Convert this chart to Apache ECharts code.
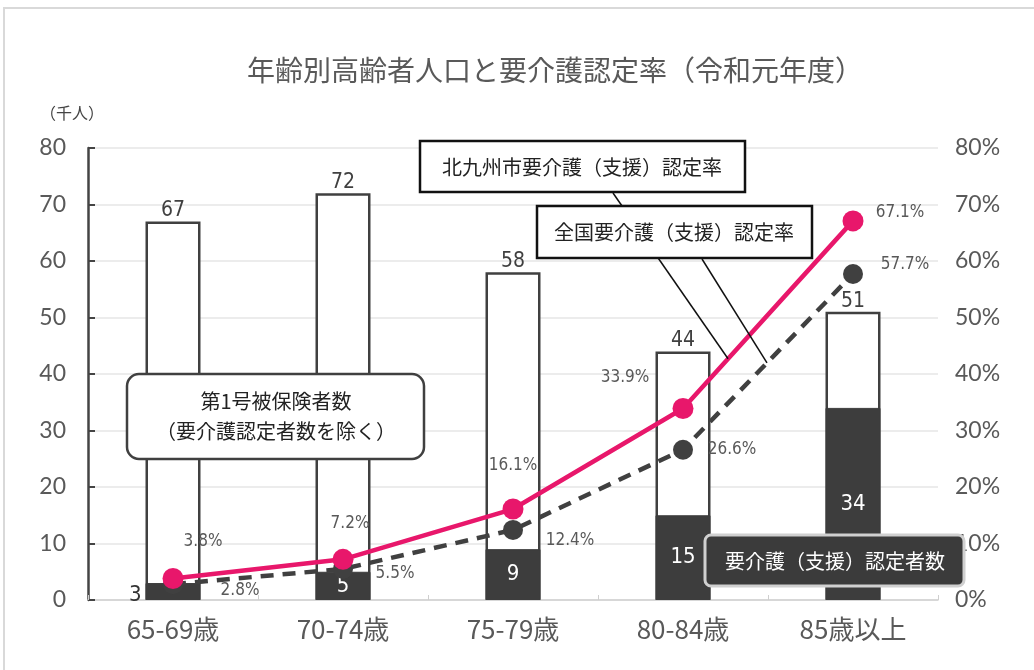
<!DOCTYPE html>
<html>
<head>
<meta charset="utf-8">
<script src="https://cdn.jsdelivr.net/npm/echarts@6/dist/echarts.min.js"></script>
<style>
  html, body { margin: 0; padding: 0; background: #fff; }
  #chart { width: 1034px; height: 670px; }
</style>
</head>
<body>
<div id="chart"></div>
<script>
// 年齢階級
const categories = ['65-69歳', '70-74歳', '75-79歳', '80-84歳', '85歳以上'];
// 第1号被保険者数（要介護認定者数を除く）（千人）
const insuredPop = [67, 72, 58, 44, 51];
// 要介護（支援）認定者数（千人）
const certifiedPop = [3, 5, 9, 15, 34];
// 北九州市 要介護（支援）認定率（%）
const kitakyushuRate = [3.8, 7.2, 16.1, 33.9, 67.1];
// 全国 要介護（支援）認定率（%）
const nationalRate = [2.8, 5.5, 12.4, 26.6, 57.7];
// 軸目盛り
const leftTicks = { min: 0, max: 80, interval: 10 };
const rightTicks = { min: 0, max: 80, interval: 10 };

// ラベルの配置（点からのずれ, px）
const pinkLabelOffsets = [[30, -37], [7, -36], [0, -43], [-58, -31], [47, -8]];
const greyLabelOffsets = [[67, 6], [52, 5], [57, 11], [49, 0], [52, -9]];

const PINK = '#e8176b';
const DARK = '#3d3d3d';
const GREY_TEXT = '#595959';
const NARROW = "'Liberation Sans Narrow','DejaVu Sans Condensed','Noto Sans CJK JP',sans-serif";
const JP = "'Noto Sans CJK JP',sans-serif";

const chart = echarts.init(document.getElementById('chart'), null, { renderer: 'canvas' });

function rateData(values, offsets) {
  return values.map((v, i) => ({
    value: v,
    label: { offset: offsets[i] }
  }));
}

const certifiedData = certifiedPop.map((v, i) => i === 0
  ? { value: v, label: { position: 'left', color: '#333', distance: 4, offset: [0, 4] } }
  : v);

const option = {
  animation: false,
  backgroundColor: '#fff',
  grid: { left: 88, right: 96, top: 148, bottom: 70 },
  xAxis: {
    type: 'category',
    data: categories,
    axisLine: { lineStyle: { color: '#d0d0d0', width: 1.5 } },
    axisTick: { show: true, inside: true, length: 5, lineStyle: { color: '#cfcfcf' } },
    axisLabel: { color: GREY_TEXT, fontSize: 26, fontFamily: JP, margin: 16 }
  },
  yAxis: [
    {
      type: 'value',
      min: leftTicks.min, max: leftTicks.max, interval: leftTicks.interval,
      axisLine: { show: true, lineStyle: { color: '#444', width: 2.5 } },
      axisTick: { show: true, inside: true, length: 7, lineStyle: { color: '#444', width: 2 } },
      axisLabel: { color: GREY_TEXT, fontSize: 23, fontFamily: "Lato, 'Noto Sans', sans-serif", margin: 22 },
      splitLine: { lineStyle: { color: '#e6e6e6', width: 1.5 } }
    },
    {
      type: 'value',
      min: rightTicks.min, max: rightTicks.max, interval: rightTicks.interval,
      position: 'right',
      axisLine: { show: false },
      axisTick: { show: false },
      splitLine: { show: false },
      axisLabel: { color: GREY_TEXT, fontSize: 23, fontFamily: "Lato, 'Noto Sans', sans-serif", margin: 17, formatter: '{value}%' }
    }
  ],
  series: [
    {
      name: '第1号被保険者数（要介護認定者数を除く）',
      type: 'bar',
      data: insuredPop,
      barWidth: 55,
      itemStyle: { color: '#fff', borderColor: '#404040', borderWidth: 2.5 },
      label: {
        show: true, position: 'top', distance: 0,
        color: '#404040', fontSize: 21, fontFamily: NARROW
      },
      z: 2
    },
    {
      name: '要介護（支援）認定者数',
      type: 'bar',
      data: certifiedData,
      barWidth: 55,
      barGap: '-100%',
      itemStyle: { color: DARK, borderColor: DARK, borderWidth: 1 },
      label: {
        show: true, position: 'inside',
        color: '#fff', fontSize: 22, fontFamily: NARROW
      },
      z: 3
    },
    {
      name: '全国要介護（支援）認定率',
      type: 'line',
      yAxisIndex: 1,
      data: rateData(nationalRate, greyLabelOffsets),
      symbol: 'circle',
      symbolSize: 20,
      itemStyle: { color: '#404040' },
      lineStyle: { color: '#404040', width: 4.5, type: [13, 9] },
      label: {
        show: true, position: 'inside',
        formatter: '{c}%', color: GREY_TEXT, fontSize: 17, fontFamily: NARROW
      },
      z: 5
    },
    {
      name: '北九州市要介護（支援）認定率',
      type: 'line',
      yAxisIndex: 1,
      data: rateData(kitakyushuRate, pinkLabelOffsets),
      symbol: 'circle',
      symbolSize: 21,
      itemStyle: { color: PINK },
      lineStyle: { color: PINK, width: 4.5 },
      label: {
        show: true, position: 'inside',
        formatter: '{c}%', color: GREY_TEXT, fontSize: 17, fontFamily: NARROW
      },
      z: 6
    }
  ]
};

chart.setOption(option);

// 引き出し線の終点を折れ線の区間上に求める
function pointOnSegment(seriesIndex, values, i, t) {
  const a = chart.convertToPixel({ seriesIndex }, [i, values[i]]);
  const b = chart.convertToPixel({ seriesIndex }, [i + 1, values[i + 1]]);
  return [a[0] + (b[0] - a[0]) * t, a[1] + (b[1] - a[1]) * t];
}
const pinkEnd = pointOnSegment(3, kitakyushuRate, 3, 0.265);
const greyEnd = pointOnSegment(2, nationalRate, 3, 0.494);

const boxText = { fill: '#222', fontSize: 20, fontFamily: JP, align: 'center', verticalAlign: 'middle' };

chart.setOption({
  graphic: [
    // 外枠
    { type: 'rect', silent: true, shape: { x: 4, y: 8, width: 1040, height: 700 },
      style: { fill: 'none', stroke: '#d9d9d9', lineWidth: 2 }, z: 0 },
    // タイトル
    { type: 'text', x: 555, y: 70, style: { text: '年齢別高齢者人口と要介護認定率（令和元年度）',
      fill: GREY_TEXT, fontSize: 28, fontFamily: JP, align: 'center', verticalAlign: 'middle' }, z: 20 },
    { type: 'text', x: 72, y: 113, style: { text: '（千人）', fill: '#444', fontSize: 16,
      fontFamily: JP, align: 'center', verticalAlign: 'middle' }, z: 20 },
    // 北九州市の引き出し線と枠
    { type: 'line', shape: { x1: 613, y1: 193, x2: pinkEnd[0], y2: pinkEnd[1] },
      style: { stroke: '#111', lineWidth: 1.5 }, z: 20 },
    { type: 'rect', shape: { x: 420, y: 141, width: 325, height: 51 },
      style: { fill: '#fff', stroke: '#111', lineWidth: 2.5 }, z: 21 },
    { type: 'text', x: 582, y: 167, style: Object.assign({ text: '北九州市要介護（支援）認定率' }, boxText), z: 22 },
    // 全国の枠と引き出し線
    { type: 'rect', shape: { x: 537, y: 206, width: 275, height: 52 },
      style: { fill: '#fff', stroke: '#111', lineWidth: 2.5 }, z: 23 },
    { type: 'text', x: 674, y: 232, style: Object.assign({ text: '全国要介護（支援）認定率' }, boxText), z: 24 },
    { type: 'polyline', shape: { points: [[702, 259], [greyEnd[0], greyEnd[1]]] },
      style: { stroke: '#111', lineWidth: 1.5, fill: 'none' }, z: 23 },
    // 第1号被保険者数の枠
    { type: 'rect', shape: { x: 127, y: 374, width: 297, height: 85, r: 12 },
      style: { fill: '#fff', stroke: '#404040', lineWidth: 2.5 }, z: 21 },
    { type: 'text', x: 276, y: 416, style: Object.assign({ text: '第1号被保険者数\n（要介護認定者数を除く）', lineHeight: 30 }, boxText), z: 22 },
    // 要介護（支援）認定者数の枠
    { type: 'rect', shape: { x: 705, y: 535, width: 259, height: 51, r: 6 },
      style: { fill: '#3b3b3b', stroke: '#d0d0d0', lineWidth: 3 }, z: 21 },
    { type: 'text', x: 835, y: 561, style: Object.assign({ text: '要介護（支援）認定者数' }, boxText, { fill: '#fff' }), z: 22 }
  ]
});
</script>
</body>
</html>
